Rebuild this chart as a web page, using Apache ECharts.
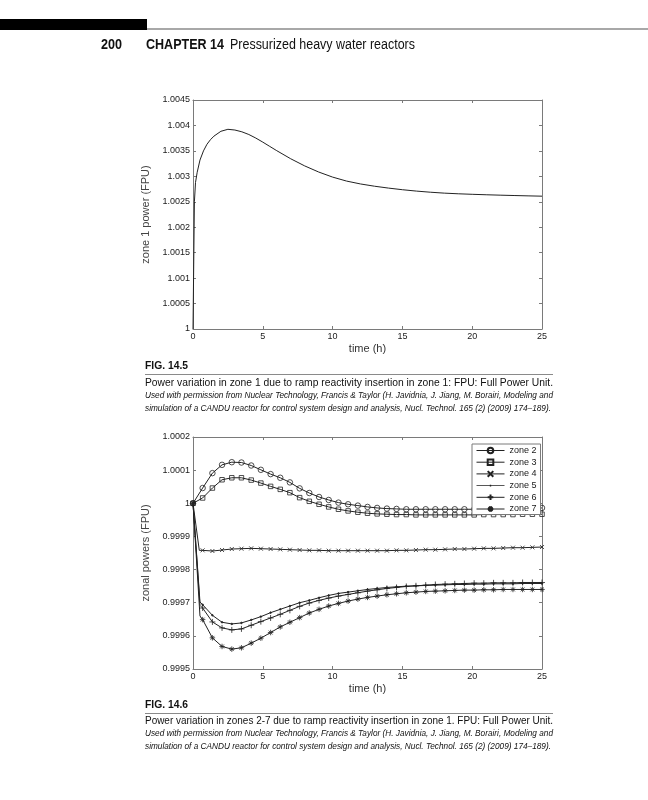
<!DOCTYPE html>
<html><head><meta charset="utf-8">
<script src="https://cdn.jsdelivr.net/npm/echarts@6/dist/echarts.min.js"></script>
<style>
html,body{margin:0;padding:0;background:#fff;}
#page{position:relative;width:648px;height:800px;overflow:hidden;background:#fff;}
#chart{position:absolute;left:0;top:0;width:648px;height:800px;}
.t{position:absolute;white-space:nowrap;transform-origin:0 50%;font-family:'Liberation Sans',Arial,sans-serif;color:#111;line-height:1;z-index:5;}
.b{font-weight:bold;}
.i{font-style:italic;}
.rule{position:absolute;height:1px;background:#8a8a8a;z-index:5;}
</style></head>
<body><div id="page"><div id="chart"></div>
<div style="position:absolute;left:0;top:19px;width:147px;height:11px;background:#000;z-index:5"></div>
<div style="position:absolute;left:147px;top:28px;width:501px;height:1.5px;background:#a8a8a8;z-index:5"></div>
<div class="t b" data-w="21" style="left:101px;top:37px;font-size:14px;">200</div>
<div class="t b" data-w="78" style="left:146px;top:37px;font-size:14px;">CHAPTER 14</div>
<div class="t" data-w="185" style="left:230px;top:37px;font-size:14px;">Pressurized heavy water reactors</div>

<div class="t b" data-w="43" style="left:145px;top:361px;font-size:10px;">FIG. 14.5</div>
<div class="rule" style="left:145px;top:374px;width:408px;"></div>
<div class="t" data-w="408" style="left:145px;top:377px;font-size:11.5px;">Power variation in zone 1 due to ramp reactivity insertion in zone 1: FPU: Full Power Unit.</div>
<div class="t i" data-w="408" style="left:145px;top:391px;font-size:9px;">Used with permission from Nuclear Technology, Francis &amp; Taylor (H. Javidnia, J. Jiang, M. Borairi, Modeling and</div>
<div class="t i" data-w="406" style="left:145px;top:404px;font-size:9px;">simulation of a CANDU reactor for control system design and analysis, Nucl. Technol. 165 (2) (2009) 174–189).</div>

<div class="t b" data-w="43" style="left:145px;top:700px;font-size:10px;">FIG. 14.6</div>
<div class="rule" style="left:145px;top:713px;width:408px;"></div>
<div class="t" data-w="408" style="left:145px;top:715px;font-size:11.5px;">Power variation in zones 2-7 due to ramp reactivity insertion in zone 1. FPU: Full Power Unit.</div>
<div class="t i" data-w="408" style="left:145px;top:729px;font-size:9px;">Used with permission from Nuclear Technology, Francis &amp; Taylor (H. Javidnia, J. Jiang, M. Borairi, Modeling and</div>
<div class="t i" data-w="406" style="left:145px;top:742px;font-size:9px;">simulation of a CANDU reactor for control system design and analysis, Nucl. Technol. 165 (2) (2009) 174–189).</div>
</div>
<script>
// ---------- Fig 14.5 data ----------
const zone1Time = [0, 0.1, 0.18, 0.3, 0.5, 0.75, 1, 1.25, 1.5, 2, 2.5, 3, 3.5, 4, 4.5, 5, 5.5, 6, 7, 8, 9, 10, 11, 12, 13, 14, 15, 16, 17, 18, 19, 20, 21, 22, 23, 24, 25];
const zone1Power = [1.0000, 1.0025, 1.00288, 1.00308, 1.00332, 1.00350, 1.00363, 1.00372, 1.00379, 1.003885, 1.003924, 1.00391, 1.003875, 1.003822, 1.003752, 1.003672, 1.003588, 1.003504, 1.003345, 1.003205, 1.003085, 1.002985, 1.002907, 1.002850, 1.002806, 1.002769, 1.002737, 1.002710, 1.002688, 1.002670, 1.002657, 1.002647, 1.002638, 1.002630, 1.002623, 1.002616, 1.002610];

// ---------- Fig 14.6 data ----------
const markerTime = [0, 0.69, 1.39, 2.08, 2.78, 3.47, 4.17, 4.86, 5.56, 6.25, 6.94, 7.64, 8.33, 9.03, 9.72, 10.42, 11.11, 11.81, 12.5, 13.19, 13.89, 14.58, 15.28, 15.97, 16.67, 17.36, 18.06, 18.75, 19.44, 20.14, 20.83, 21.53, 22.22, 22.92, 23.61, 24.31, 25];
const zone2 = [1.000000, 1.000046, 1.000091, 1.000116, 1.000124, 1.000123, 1.000114, 1.000101, 1.000088, 1.000077, 1.000063, 1.000045, 1.000031, 1.000019, 1.000010, 1.000002, 0.999997, 0.999993, 0.999989, 0.999986, 0.999984, 0.999983, 0.999982, 0.999982, 0.999982, 0.999982, 0.999982, 0.999982, 0.999982, 0.999982, 0.999982, 0.999983, 0.999983, 0.999983, 0.999983, 0.999984, 0.999986];
const zone3 = [1.000000, 1.000016, 1.000046, 1.000071, 1.000077, 1.000077, 1.000070, 1.000061, 1.000051, 1.000042, 1.000032, 1.000017, 1.000006, 0.999997, 0.999989, 0.999982, 0.999977, 0.999973, 0.999970, 0.999968, 0.999967, 0.999966, 0.999966, 0.999965, 0.999965, 0.999965, 0.999965, 0.999965, 0.999965, 0.999965, 0.999966, 0.999966, 0.999966, 0.999966, 0.999967, 0.999967, 0.999967];
const zone4 = [1.000000, 0.999858, 0.999856, 0.999859, 0.999862, 0.999863, 0.999864, 0.999863, 0.999862, 0.999861, 0.999860, 0.999859, 0.999858, 0.999858, 0.999857, 0.999857, 0.999857, 0.999857, 0.999857, 0.999857, 0.999857, 0.999858, 0.999858, 0.999859, 0.999860, 0.999860, 0.999861, 0.999862, 0.999862, 0.999863, 0.999864, 0.999864, 0.999865, 0.999866, 0.999866, 0.999867, 0.999868];
const zone5 = [1.000000, 0.999694, 0.999662, 0.999641, 0.999636, 0.999639, 0.999648, 0.999658, 0.999670, 0.999680, 0.999690, 0.999700, 0.999707, 0.999715, 0.999722, 0.999728, 0.999732, 0.999736, 0.999740, 0.999743, 0.999746, 0.999748, 0.999750, 0.999751, 0.999752, 0.999753, 0.999754, 0.999755, 0.999755, 0.999756, 0.999756, 0.999757, 0.999757, 0.999757, 0.999758, 0.999758, 0.999758];
const zone6 = [1.000000, 0.999684, 0.999642, 0.999624, 0.999618, 0.999621, 0.999632, 0.999643, 0.999654, 0.999665, 0.999677, 0.999689, 0.999699, 0.999707, 0.999714, 0.999720, 0.999725, 0.999730, 0.999735, 0.999739, 0.999743, 0.999746, 0.999749, 0.999751, 0.999753, 0.999755, 0.999756, 0.999757, 0.999758, 0.999759, 0.999759, 0.999760, 0.999760, 0.999760, 0.999761, 0.999761, 0.999761];
const zone7 = [1.000000, 0.999649, 0.999594, 0.999568, 0.999560, 0.999564, 0.999578, 0.999593, 0.999610, 0.999627, 0.999641, 0.999655, 0.999669, 0.999680, 0.999690, 0.999698, 0.999705, 0.999711, 0.999716, 0.999720, 0.999724, 0.999727, 0.999730, 0.999732, 0.999734, 0.999735, 0.999736, 0.999737, 0.999738, 0.999738, 0.999739, 0.999739, 0.999740, 0.999740, 0.999740, 0.999740, 0.999740];
// steep initial transient (line only, no marker) for zones 2..7
const earlyTime = [null, null, 0.45, 0.5, 0.5, 0.5];
const earlyValue = [null, null, 0.999858, 0.999702, 0.999692, 0.999660];

const xTicks = ['0', '5', '10', '15', '20', '25'];
const yTicks1 = ['1', '1.0005', '1.001', '1.0015', '1.002', '1.0025', '1.003', '1.0035', '1.004', '1.0045'];
const yTicks2 = ['0.9995', '0.9996', '0.9997', '0.9998', '0.9999', '1', '1.0001', '1.0002'];
const zoneNames = ['zone 2', 'zone 3', 'zone 4', 'zone 5', 'zone 6', 'zone 7'];

// ---------- text fitting ----------
document.querySelectorAll('.t[data-w]').forEach(el => {
  const w = el.getBoundingClientRect().width;
  el.style.transform = 'scaleX(' + (parseFloat(el.dataset.w) / w) + ')';
});

const FONT = "'Liberation Sans', Arial, sans-serif";
const AX = '#7a7a7a', INK = '#1a1a1a';

function xAx(grid, main) {
  return {
    gridIndex: grid, type: 'value', min: 0, max: 25, interval: 5,
    position: main ? 'bottom' : 'top',
    name: main ? 'time (h)' : '', nameLocation: 'middle', nameGap: 14,
    nameTextStyle: {fontSize: 11, color: '#333', fontFamily: FONT},
    axisLine: {show: true, onZero: false, lineStyle: {color: AX, width: 1}},
    axisTick: {show: true, inside: true, length: 3, lineStyle: {color: AX}},
    axisLabel: {show: main, margin: 3, fontSize: 9, color: INK, fontFamily: FONT,
      formatter: v => xTicks[Math.round(v / 5)]},
    splitLine: {show: false}
  };
}
function yAx(grid, main, min, max, step, labels, name) {
  return {
    gridIndex: grid, type: 'value', min: min, max: max, interval: step,
    position: main ? 'left' : 'right',
    name: main ? name : '', nameLocation: 'middle', nameGap: 37,
    nameTextStyle: {fontSize: 11, color: '#444', fontFamily: FONT},
    axisLine: {show: true, onZero: false, lineStyle: {color: AX, width: 1}},
    axisTick: {show: true, inside: true, length: 3, lineStyle: {color: AX}},
    axisLabel: {show: main, margin: 3, fontSize: 9, color: INK, fontFamily: FONT,
      formatter: v => labels[Math.round((v - min) / step)]},
    splitLine: {show: false}
  };
}

const zones = [zone2, zone3, zone4, zone5, zone6, zone7];
const symbols = [
  'circle', 'rect',
  'path://M0,0L10,10M10,0L0,10',
  'circle',
  'path://M5,0L5,10M0,5L10,5',
  'path://M5,0L5,10M0,5L10,5M1.5,1.5L8.5,8.5M8.5,1.5L1.5,8.5'
];
const sizes = [5.5, 4.5, 4, 1.6, 6, 5.5];
const zoneSeries = zones.map((vals, zi) => {
  const data = markerTime.map((t, i) => [t, vals[i]]);
  if (earlyValue[zi] !== null) {
    data.splice(1, 0, {value: [earlyTime[zi], earlyValue[zi]], symbol: 'none'});
  }
  const filled = zi === 3;
  return {
    name: zoneNames[zi], type: 'line', xAxisIndex: 2, yAxisIndex: 2,
    data: data, symbol: symbols[zi], symbolSize: sizes[zi], symbolKeepAspect: true,
    showAllSymbol: true,
    lineStyle: {color: '#222', width: 1},
    itemStyle: {color: filled ? '#222' : 'rgba(255,255,255,0)', borderColor: '#222', borderWidth: 0.8},
    emphasis: {disabled: true}
  };
});

// zone 5 legend icon: thin line with a tiny dot (icon box is 28 x 7; tiny corner specks fix the bounds)
const legendData = zoneNames.map((n, i) => i === 3
  ? {name: n,
     icon: 'path://M0,0L0.02,0L0.02,0.02L0,0.02Z M27.98,6.98L28,6.98L28,7L27.98,7Z M0,3.05L28,3.05L28,3.95L0,3.95Z M13.3,2.7L14.7,2.7L14.7,4.3L13.3,4.3Z',
     itemStyle: {color: '#222', borderWidth: 0, borderColor: 'rgba(0,0,0,0)'}}
  : {name: n});

const chart = echarts.init(document.getElementById('chart'), null, {renderer: 'canvas'});
chart.setOption({
  animation: false,
  backgroundColor: 'transparent',
  grid: [
    {left: 193, top: 100, width: 349, height: 229},
    {left: 193, top: 437, width: 349, height: 232}
  ],
  xAxis: [xAx(0, true), xAx(0, false), xAx(1, true), xAx(1, false)],
  yAxis: [
    yAx(0, true, 1, 1.0045, 0.0005, yTicks1, 'zone 1 power (FPU)'),
    yAx(0, false, 1, 1.0045, 0.0005, yTicks1, ''),
    yAx(1, true, 0.9995, 1.0002, 0.0001, yTicks2, 'zonal powers (FPU)'),
    yAx(1, false, 0.9995, 1.0002, 0.0001, yTicks2, '')
  ],
  legend: {
    data: legendData, orient: 'vertical', left: 472, top: 444,
    backgroundColor: '#fff', borderColor: AX, borderWidth: 1, borderRadius: 0,
    padding: [2, 4, 1, 4], itemGap: 2.7, itemWidth: 28, itemHeight: 7,
    lineStyle: {width: 1},
    textStyle: {fontSize: 9, lineHeight: 9, color: INK, fontFamily: FONT},
    selectedMode: false
  },
  series: [
    {
      name: 'zone 1', type: 'line', xAxisIndex: 0, yAxisIndex: 0,
      data: zone1Time.map((t, i) => [t, zone1Power[i]]),
      symbol: 'none', lineStyle: {color: '#222', width: 1}
    }
  ].concat(zoneSeries)
});
</script>
</body></html>
